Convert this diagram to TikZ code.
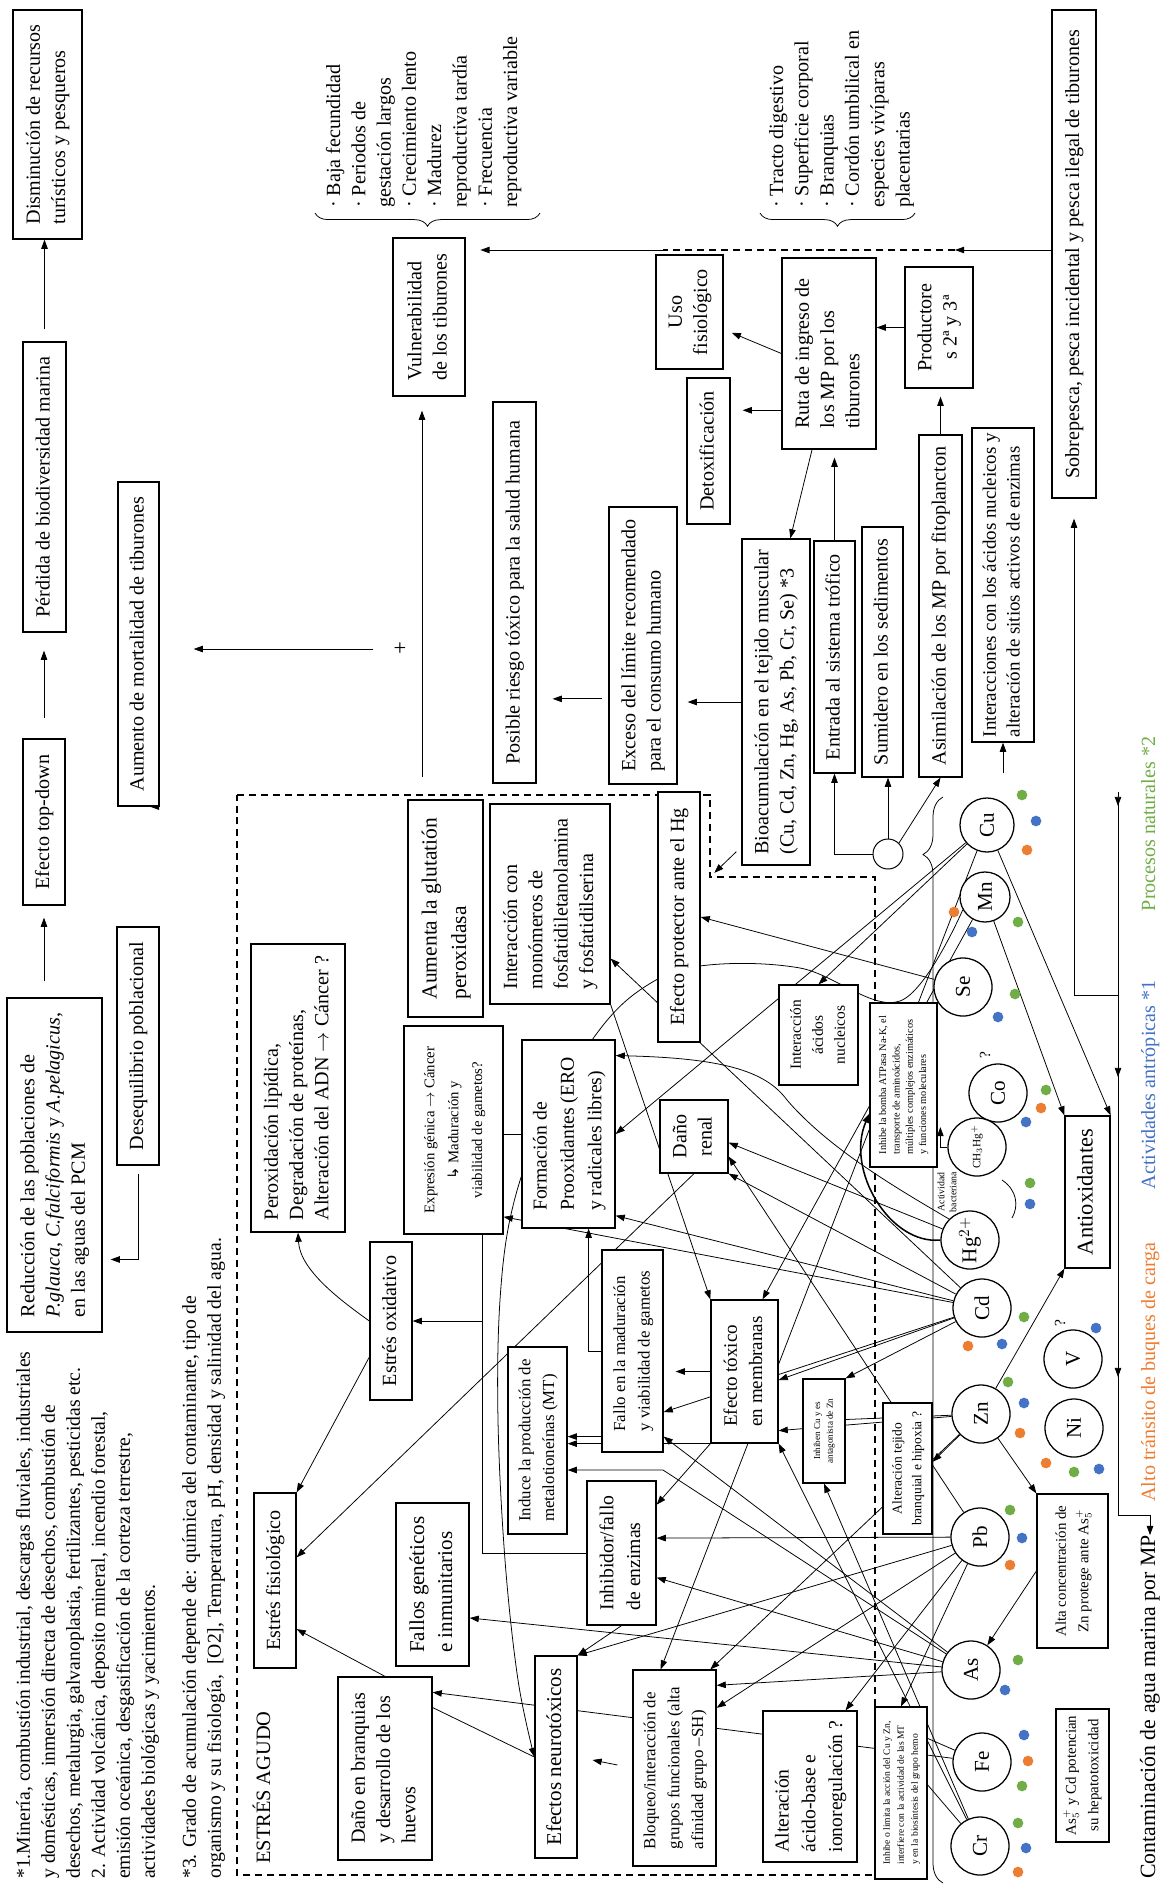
\documentclass[tikz,border=0pt]{standalone}
\usepackage{fontspec}
\setmainfont{Liberation Serif}
\newfontfamily\symfont{DejaVu Sans}
\usepackage{graphicx}
\usetikzlibrary{arrows.meta,backgrounds,decorations.pathreplacing}
\definecolor{dorange}{HTML}{ED7D31}
\definecolor{dblue}{HTML}{4472C4}
\definecolor{dgreen}{HTML}{70AD47}
\newcommand{\mprt}[2][l]{\rotatebox{90}{\begin{tabular}{@{}#1@{}}#2\end{tabular}}}
\newcommand{\mpfs}[2]{\fontsize{#1}{#2}\selectfont}

\begin{document}
\begin{tikzpicture}[x=0.025cm, y=-0.025cm,
  mpbox/.style={draw, line width=0.9pt, fill=white, inner sep=0pt, font=\mpfs{14.3}{18}},
  corners/.style n args={4}{at={({(#1+#3)/2},{(#2+#4)/2})}, minimum width={(#3-#1)*0.025cm}, minimum height={(#4-#2)*0.025cm}},
  metal/.style={circle, draw, line width=0.9pt, fill=white, inner sep=0pt, minimum size=1.45cm, font=\mpfs{15}{15}},
  lbl/.style={inner sep=0pt, font=\mpfs{14.3}{18}},
  arr/.style={-{Triangle[length=6.5pt,width=4.6pt]}, line width=0.55pt},
  link/.style={line width=0.55pt},
  dashline/.style={dash pattern=on 5pt off 3.5pt, line width=0.9pt},
  bracket/.style={decorate, line width=0.55pt}]
\useasboundingbox (0,0) rectangle (1169,1888);

% consequences
\node[mpbox, corners={13}{10}{82}{239}] (dism) {\mprt{Disminución de recursos\\turísticos y pesqueros}};
\node[mpbox, corners={23}{342}{66}{632}] (perd) {\mprt{Pérdida de biodiversidad marina}};
\node[mpbox, corners={23}{739}{65}{905}] (topdown) {\mprt{Efecto top-down}};
\node[mpbox, corners={7}{998}{102}{1332}] (reduc) {\mprt{Reducción de las poblaciones de\\\textit{P.glauca}, \textit{C.falciformis} y \textit{A.pelagicus},\\en las aguas del PCM}};
\node[mpbox, corners={117}{927}{159}{1165}] (deseq) {\mprt{Desequilibrio poblacional}};
\node[mpbox, corners={118}{482}{159}{806}] (aument) {\mprt{Aumento de mortalidad de tiburones}};
\node[mpbox, corners={393}{238}{465}{396}] (vuln) {\mprt{Vulnerabilidad\\de los tiburones}};
\node[mpbox, corners={493}{402}{536}{783}] (posible) {\mprt{Posible riesgo tóxico para la salud humana}};
\node[mpbox, corners={609}{507}{677}{784}] (exceso) {\mprt{Exceso del límite recomendado\\para el consumo humano}};
\node[mpbox, corners={656}{255}{723}{369}] (uso) {\mprt[c]{Uso\\fisiológico}};
\node[mpbox, corners={687}{378}{730}{524}] (detox) {\mprt{Detoxificación}};
\node[mpbox, corners={782}{258}{876}{449}] (ruta) {\mprt{Ruta de ingreso de\\los MP por los\\tiburones}};
\node[mpbox, corners={905}{267}{973}{388}] (product) {\mprt[c]{Productore\\s 2ª y 3ª}};
\node[mpbox, corners={742}{539}{810}{865}] (bioac) {\mprt{Bioacumulación en el tejido muscular\\(Cu, Cd, Zn, Hg, As, Pb, Cr, Se) *3}};
\node[mpbox, corners={814}{541}{855}{773}] (entrada) {\mprt{Entrada al sistema trófico}};
\node[mpbox, corners={862}{527}{903}{777}] (sumid) {\mprt{Sumidero en los sedimentos}};
\node[mpbox, corners={919}{435}{962}{777}] (asimil) {\mprt{Asimilación de los MP por fitoplancton}};
\node[mpbox, corners={972}{428}{1034}{742}, font=\mpfs{13.5}{17}] (interac) {\mprt{Interacciones con los ácidos nucleicos y\\alteración de sitios activos de enzimas}};
\node[mpbox, corners={1052}{10}{1096}{498}] (sobre) {\mprt{Sobrepesca, pesca incidental y pesca ilegal de tiburones}};

% acute stress
\node[mpbox, corners={251}{944}{345}{1232}] (perox) {\mprt{Peroxidación lipídica,\\Degradación de proteínas,\\Alteración del ADN $\rightarrow$ Cáncer ?}};
\node[mpbox, corners={408}{800}{483}{1017}, font=\mpfs{15.3}{21}] (glut) {\mprt{Aumenta la glutatión\\peroxidasa}};
\node[mpbox, corners={490}{804}{610}{1004}] (monom) {\mprt{Interacción con\\monómeros de\\fosfatidiletanolamina\\y fosfatidilserina}};
\node[mpbox, corners={658}{792}{700}{1042}] (protec) {\mprt{Efecto protector ante el Hg}};
\node[mpbox, corners={404}{1026}{503}{1234}, font=\mpfs{10.5}{17}] (expres) {\mprt[c]{Expresión génica $\rightarrow$ Cáncer\\{\symfont ↳} Maduración y\\viabilidad de gametos?}};
\node[mpbox, corners={522}{1040}{615}{1228}, font=\mpfs{14}{19.5}] (formac) {\mprt{Formación de\\Prooxidantes (ERO\\y radicales libres)}};
\node[mpbox, corners={660}{1100}{728}{1173}] (renal) {\mprt[c]{Daño\\renal}};
\node[mpbox, corners={779}{985}{858}{1085}, font=\mpfs{11}{15.6}] (nucle) {\mprt[c]{Interacción\\ácidos\\nucleicos}};
\node[mpbox, corners={870}{1003}{937}{1167}, font=\mpfs{7.3}{9.5}] (bomba) {\mprt{Inhibe la bomba ATPasa Na-K, el\\transporte de aminoácidos,\\múltiples complejos enzimáticos\\y funciones moleculares}};
\node[mpbox, corners={370}{1242}{412}{1400}] (estox) {\mprt{Estrés oxidativo}};
\node[mpbox, corners={254}{1493}{296}{1668}] (estfis) {\mprt{Estrés fisiológico}};
\node[mpbox, corners={338}{1677}{432}{1860}] (branq) {\mprt{Daño en branquias\\y desarrollo de los\\huevos}};
\node[mpbox, corners={508}{1347}{567}{1534}, font=\mpfs{12}{17}] (induce) {\mprt{Induce la producción de\\metalotioneínas (MT)}};
\node[mpbox, corners={602}{1250}{663}{1452}, font=\mpfs{12}{17.5}] (gamet) {\mprt{Fallo en la maduración\\y viabilidad de gametos}};
\node[mpbox, corners={711}{1300}{778}{1443}, font=\mpfs{13.5}{18}] (memb) {\mprt{Efecto tóxico\\en membranas}};
\node[mpbox, corners={587}{1481}{656}{1625}, font=\mpfs{14}{19}] (inhenz) {\mprt{Inhibidor/fallo\\de enzimas}};
\node[mpbox, corners={396}{1503}{469}{1666}, font=\mpfs{15}{20}] (genet) {\mprt{Fallos genéticos\\e inmunitarios}};
\node[mpbox, corners={535}{1656}{577}{1858}, font=\mpfs{15}{18}] (neuro) {\mprt{Efectos neurotóxicos}};
\node[mpbox, corners={633}{1670}{716}{1866}, font=\mpfs{12}{17}] (bloq) {\mprt{Bloqueo/interacción de\\grupos funcionales (alta\\afinidad grupo –SH)}};
\node[mpbox, corners={763}{1711}{857}{1862}, font=\mpfs{14}{19}] (acido) {\mprt{Alteración\\ácido-base e\\ionoregulación ?}};
\node[mpbox, corners={803}{1379}{845}{1483}, font=\mpfs{6.5}{9}] (inhcu) {\mprt[c]{Inhiben Cu y es\\antagonista de Zn}};
\node[mpbox, corners={883}{1403}{932}{1534}, font=\mpfs{9.6}{14}] (tejido) {\mprt[c]{Alteración tejido\\branquial e hipoxia ?}};
\node[mpbox, corners={875}{1707}{927}{1879}, font=\mpfs{6.8}{10}] (limita) {\mprt{Inhibe o limita la acción del Cu y Zn,\\interfiere con la actividad de las MT\\y en la biosíntesis del grupo hemo}};
\node[mpbox, corners={1065}{1116}{1110}{1268}, font=\mpfs{16}{18}] (antiox) {\mprt{Antioxidantes}};
\node[mpbox, corners={1037}{1494}{1108}{1648}, font=\mpfs{10.6}{16}] (altazn) {\mprt[c]{Alta concentración de\\Zn protege ante As$_5^{+}$}};
\node[mpbox, corners={1056}{1709}{1109}{1842}, font=\mpfs{10.6}{16}] (ascd) {\mprt[c]{As$_5^{+}$ y Cd potencian\\su hepatotoxicidad}};

% metals
\node[metal, minimum size=1.35cm] (cu) at (987,825) {\rotatebox{90}{Cu}};
\node[metal, minimum size=1.25cm] (mn) at (985,897) {\rotatebox{90}{Mn}};
\foreach \nm/\x/\y/\t in {se/963/987/Se, co/998/1093/Co, hg/970/1240/Hg$^{2+}$, cd/982/1308/Cd,
    zn/981/1414/Zn, pb/980/1537/Pb, as/971/1670/As, fe/982/1762/Fe, cr/980/1846/Cr,
    v/1073/1359/V, ni/1074/1428/Ni}
  \node[metal] (\nm) at (\x,\y) {\rotatebox{90}{\t}};
\node[metal, font=\mpfs{8}{8}] (chhg) at (977,1147) {\rotatebox{90}{CH$_3$Hg$^+$}};
\node[circle, draw, line width=0.7pt, fill=white, inner sep=0pt, minimum size=0.75cm] (junc) at (888,854) {};
\foreach \c/\x/\y in {dgreen/1022/795, dblue/1036/821, dorange/1027/850,
    dorange/954/912, dblue/972/932, dgreen/1018/922, dgreen/1015/994, dblue/998/1017,
    dgreen/1046/1090, dorange/1041/1108, dblue/1026/1122, dgreen/1030/1183, dblue/1030/1204,
    dorange/968/1346, dblue/1002/1344, dgreen/1024/1317, dblue/1096/1328,
    dgreen/1008/1382, dblue/1024/1403, dorange/1020/1433,
    dorange/1046/1463, dgreen/1074/1472, dblue/1099/1469,
    dgreen/1010/1510, dblue/1022/1538, dorange/1010/1565,
    dgreen/1018/1660, dblue/1005/1690,
    dblue/1024/1735, dorange/1028/1761, dgreen/1022/1786,
    dgreen/1018/1823, dblue/1026/1848, dorange/1018/1872}
  \fill[\c] (\x,\y) circle[radius=3.8pt];

% labels
\node[lbl, font=\mpfs{11}{11}] (qco) at (985,1055) {\rotatebox{90}{?}};
\node[lbl, font=\mpfs{11}{11}] (qv) at (1060,1323) {\rotatebox{90}{?}};
\node[lbl, font=\mpfs{7}{8.5}] (bact) at (948,1192) {\mprt[c]{Actividad\\bacteriana}};
\node[lbl, font=\mpfs{16}{16}] (plus) at (400,649) {+};
\node[lbl, anchor=south west] (lista1) at (322,208) {\mprt{· Baja fecundidad\\· Periodos de\\gestación largos\\· Crecimiento lento\\· Madurez\\reproductiva tardía\\· Frecuencia\\reproductiva variable}};
\node[lbl, anchor=south west] (lista2) at (765,208) {\mprt{· Tracto digestivo\\· Superficie corporal\\· Branquias\\· Cordón umbilical en\\especies vivíparas\\placentarias}};
\node[lbl, anchor=south west, font=\mpfs{14}{17.8}] (nota12) at (12,1879) {\mprt{*1.Minería, combustión industrial, descargas fluviales, industriales\\y domésticas, inmersión directa de desechos, combustión de\\desechos, metalurgia, galvanoplastia, fertilizantes, pesticidas etc.\\*2. Actividad volcánica, deposito mineral, incendio forestal,\\emisión oceánica, desgasificación de la corteza terrestre,\\actividades biológicas y yacimientos.}};
\node[lbl, anchor=south west, font=\mpfs{14}{17.8}] (nota3) at (178,1879) {\mprt{*3. Grado de acumulación depende de: química del contaminante, tipo de\\organismo y su fisiología,\ \ [O2], Temperatura, pH, densidad y salinidad del agua.}};
\node[lbl, anchor=south west, font=\mpfs{14.5}{18}] (agudo) at (252,1864) {\mprt{ESTRÉS AGUDO}};
\node[lbl, text=dgreen] (natur) at (1150,824) {\mprt{Procesos naturales *2}};
\node[lbl, text=dblue] (antrop) at (1150,1085) {\mprt{Actividades antrópicas *1}};
\node[lbl, text=dorange] (buques) at (1150,1372) {\mprt{Alto tránsito de buques de carga}};
\node[lbl, font=\mpfs{15.5}{18}] (contam) at (1150,1707) {\mprt{Contaminación de agua marina por MP}};

\begin{scope}[on background layer]
  % frame of the acute stress
  \draw[dashline] (237,795) -- (710,795) -- (710,877) -- (875,877) -- (875,1875) -- (237,1875) -- cycle;
  \coordinate (agudotop) at (422,795);
  \coordinate (agudocorner) at (710,877);
  % consequences
  \draw[arr, shorten <=0.3cm] (perd.north) -- (perd.north |- dism.south);
  \draw[arr, shorten <=0.5cm, shorten >=0.45cm] (topdown.north) -- (topdown.north |- perd.south);
  \draw[arr, shorten <=0.4cm, shorten >=0.3cm] (reduc.north -| topdown.south) -- (topdown.south);
  \draw[arr, shorten <=0.5cm, shorten >=0.3cm] (aument.south) -- (aument.south -| deseq.north);
  \draw[arr, shorten <=0.2cm, shorten >=0.2cm] (deseq.south) |- (reduc.-63);
  \draw[arr, shorten <=0.5cm, shorten >=0.85cm] (plus) -- (plus -| aument.east);
  \draw[arr, shorten <=0.45cm, shorten >=0.35cm] (agudotop) -- (agudotop |- vuln.south);
  % overfishing
  \coordinate (dashR) at (955,250);
  \coordinate (dashL) at (663,250);
  \draw[arr] (sobre.west |- dashR) -- (dashR);
  \draw[dashline] (dashR) -- (dashL);
  \draw[arr, shorten >=0.37cm] (dashL) -- (dashL -| vuln.east);
  % sources
  \coordinate (busT) at (1118,800);
  \coordinate (busS) at (1118,995);
  \coordinate (busB) at (1118,1515);
  \draw[arr] (busT) -- (busB) -| (contam.north);
  \foreach \y in {806,1077,1377} \draw[arr] (1118,\y-14) -- (1118,\y);
  \draw[arr, shorten >=0.5cm] (busS) -| (sobre.south);
  % braces
  \draw[bracket, decoration={brace, amplitude=0.33cm}] (540,213) -- (315,213);
  \draw[bracket, decoration={brace, amplitude=0.33cm}] (915,213) -- (760,213);
  \draw[bracket, decoration={brace, amplitude=0.5cm, aspect=0.947}] (943,1883) -- (943,797);
  % route of the metals
  \draw[arr] (junc.west) -| (entrada.south);
  \draw[arr] (junc.north) -- (junc.north |- sumid.south);
  \draw[arr] (junc.north east) -- (asimil.south);
  \draw[arr, shorten <=0.6cm] (interac.south |- cu.north) -- (interac.south);
  \draw[arr, shorten >=0.22cm] (ruta.west) -- (uso.-27);
  \draw[arr, shorten >=0.3cm] (ruta.-130) -- (ruta.-130 -| detox.east);
  \draw[arr] (ruta.-100) -- (bioac.85);
  \draw[arr, shorten >=0.2cm] (entrada.north) -- (entrada.north |- ruta.south);
  \draw[arr, shorten >=0.2cm] (asimil.north) -- (asimil.north |- product.south);
  \draw[arr] (product.west) -- (product.west -| ruta.east);
  \draw[arr, shorten >=0.25cm] (bioac.west) -- (bioac.west -| exceso.east);
  \draw[arr, shorten <=0.15cm, shorten >=0.4cm] (exceso.-123) -- (exceso.-123 -| posible.east);
  \draw[arr, shorten >=0.15cm] ([shift={(-5,-14)}]bioac.south west) -- (agudocorner);
  % copper, manganese, selenium
  \draw[arr] (cu) -- (nucle.north);
  \draw[arr] (cu) -- (formac.east);
  \draw[arr] (cu) -- (antiox.north east);
  \draw[arr] (cu) -- (bloq.98);
  \draw[arr] (mn) -- (antiox.north west);
  \draw[arr] (mn) -- (memb.76);
  \draw[arr] plot[smooth, tension=0.6] coordinates {(mn.-150) (900,1001) (800,968) (700,966) (640,990) (592,1040) (540,1130) (512,1210) (500,1300) (498,1420) (505,1560) (518,1680) (neuro.west)};
  \draw[arr] (se) -- (protec.east);
  % mercury
  \draw[arr] (hg) -- (renal.-10);
  \draw[arr, line width=1.1pt] (hg.west) .. controls (890,1245) and (845,1170) .. (bomba.-140);
  \draw[arr] (hg.north west) .. controls (900,1190) and (830,1150) .. (787,1100) .. controls (765,1070) and (720,1058) .. (formac.59);
  \draw[arr] (chhg.west) -- ++(-7,0) -- ++(0,-20);
  \draw[link] (1002,1180) .. controls (1017,1190) and (1019,1206) .. (1012,1218);
  % cadmium
  \draw[arr] (cd) -- (monom.-42);
  \draw[arr] (cd) -- (formac.-60);
  \draw[arr] (cd) -- (expres.-60);
  \draw[arr] (cd) -- (renal.south east);
  \draw[arr] (cd) -- (inhcu.north east);
  \draw[arr] (cd) -- (gamet.-63);
  \draw[arr] (cd) -- (memb.-14);
  % zinc
  \draw[arr] (zn) -- (antiox.south west);
  \draw[arr] (zn) -- (altazn.north west);
  \draw[arr] (zn) -- (tejido.15);
  \draw[link] (zn) -- (inhcu.28);
  \draw[arr] (zn) -- (bloq.70);
  \draw[arr] (zn) -- (memb.-60);
  \draw[arr] (altazn.west) -- (as);
  % lead
  \draw[arr] (pb) -- (renal.-30);
  \draw[arr] (pb) -- (inhenz.23);
  \draw[arr] (pb) -- (neuro.north east);
  \draw[arr] (pb) -- (bloq.55);
  \draw[arr] (pb) -- (acido.65);
  \draw[arr] (pb) -- (limita.north);
  % arsenic
  \coordinate (asbend) at (663,1470);
  \draw[arr] (as) -- (genet.-42);
  \draw[arr] (as) -- (inhenz.-35);
  \draw[arr] (as) -- (bloq.63);
  \draw[arr] (as) -- (gamet.-70);
  \draw[arr] (as) -- (asbend) -- (asbend -| induce.east);
  % iron, chromium
  \draw[arr] (fe) -- (branq.58);
  \draw[link] (fe) -- (limita.64);
  \draw[link] (cr) -- (limita.17);
  \draw[arr] (cr) -- (inhcu.south);
  \draw[arr] (cr) -- (memb.south east);
  % effects
  \draw[arr] (monom.south east) -- (memb.north west);
  \draw[arr] (renal.south) -- (estfis.47);
  \draw[arr] (estox.-121) -- (estfis.north east);
  \draw[arr] (branq.north) -- (estfis.-66);
  \draw[arr] (estox.west) .. controls (340,1300) and (300,1270) .. (perox.south);
  \coordinate (busO) at (482,1553);
  \draw[link] (formac.west) -| (busO) -- (inhenz.west);
  \draw[arr] (busO |- estox.east) -- (estox.east);
  \draw[arr] (inhenz.south) -- (neuro.north east);
  \draw[arr, shorten <=0.38cm, shorten >=0.38cm] (bloq.west) -- (neuro.east);
  \draw[link] (neuro.west) -- (branq.52);
  \draw[arr, shorten >=0.3cm] (memb.west) -- (memb.west -| gamet.east);
  \draw[arr] (gamet.west) -| (formac.-78);
  \draw[arr] (gamet.-110) -- (gamet.-110 -| induce.east);
  \draw[arr] (memb.south west) -- (memb.south west -| induce.east);
  \draw[arr] (memb.south west) -- (inhenz.54);
\end{scope}
\end{tikzpicture}
\end{document}
